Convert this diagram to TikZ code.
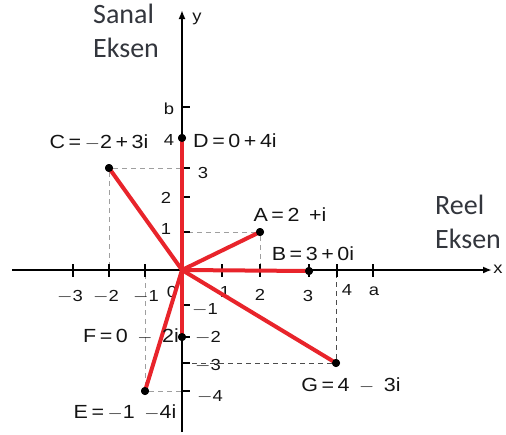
\documentclass[tikz,border=0pt]{standalone}
\usepackage{fontspec}
\setmainfont{Liberation Sans}
\newfontfamily\calib{Carlito}
\usepackage{graphicx}
\usetikzlibrary{arrows.meta}
\definecolor{vred}{HTML}{E8242B}
\definecolor{captxt}{HTML}{33363D}
\newcommand{\plab}[1]{{\fontsize{19}{21}\selectfont\scalebox{1.13}[1]{#1}}}
\newcommand{\tlab}[1]{{\fontsize{16}{18}\selectfont\scalebox{1.15}[1]{#1}}}
\tikzset{
  axis/.style={line width=1.8pt,-{Latex[length=9pt,width=7pt]}},
  tick/.style={line width=1.6pt},
  guide/.style={gray!75,line width=1pt,dash pattern=on 5pt off 4pt},
  vec/.style={vred,line width=4pt},
  pt/.style={circle,fill=black,inner sep=0pt,minimum size=8pt},
  lbl/.style={inner sep=0pt,text=black!92},
  axcaption/.style={inner sep=0pt,text=captxt,font=\calib\fontsize{28}{34}\selectfont,align=left,anchor=north west}
}
\begin{document}
\begin{tikzpicture}[x=1pt,y=-1pt]
\useasboundingbox (0,0) rectangle (506,434);
% key coordinates
\coordinate (O) at (182,270);
\coordinate (xl) at (12,270);
\coordinate (xr) at (492,270);
\coordinate (yb) at (182,432);
\coordinate (yt) at (182,10);
% points
\node[pt] (A) at (260,232) {};
\node[pt] (B) at (309,271) {};
\node[pt] (C) at (109,168) {};
\node[pt] (D) at (182,138) {};
\node[pt] (E) at (145,391) {};
\node[pt] (F) at (182,337) {};
\node[pt] (G) at (336,363) {};
% axis foot points of guides
\coordinate (Cx) at (109,270); \coordinate (Cy) at (182,168);
\coordinate (Ax) at (260,270); \coordinate (Ay) at (182,232);
\coordinate (Ex) at (145,270); \coordinate (Ey) at (182,391);
\coordinate (Gx) at (336,270); \coordinate (Gy) at (182,363);
% guides
\draw[guide] (C) -- (Cx); \draw[guide] (C) -- (Cy);
\draw[guide] (A) -- (Ax); \draw[guide] (A) -- (Ay);
\draw[guide] (E) -- (Ex); \draw[guide] (E) -- (Ey);
\draw[guide,black!70] (G) -- (Gx); \draw[guide,black!70] (G) -- (Gy);
% axes
\draw[axis] (xl) -- (xr);
\draw[axis] (yb) -- (yt);
% x ticks
\foreach \xx in {73,109,145,222,260,309,337,373}
  \draw[tick] (\xx,264) -- (\xx,277);
% y ticks
\foreach \yy in {107,168,197,232,305,337,363,391}
  \draw[tick] (182,\yy) -- (190,\yy);
% tick labels
\node[lbl] (tm3) at (70,297) {\tlab{$-$3}};
\node[lbl] (tm2) at (106,297) {\tlab{$-$2}};
\node[lbl] (tm1) at (146,297) {\tlab{$-$1}};
\node[lbl] (t0) at (172,292) {\tlab{0}};
\node[lbl] (t1) at (225,292) {\tlab{1}};
\node[lbl] (t2) at (260,295) {\tlab{2}};
\node[lbl] (t3) at (308,296) {\tlab{3}};
\node[lbl] (t4) at (347,290) {\tlab{4}};
\node[lbl] (ta) at (374,291) {\tlab{a}};
\node[lbl] (tb) at (169,109) {\tlab{b}};
\node[lbl] (u4) at (169,140) {\tlab{4}};
\node[lbl] (u3) at (203,173) {\tlab{3}};
\node[lbl] (u2) at (166,198) {\tlab{2}};
\node[lbl] (u1) at (166,229) {\tlab{1}};
\node[lbl] (um1) at (205,310) {\tlab{$-$1}};
\node[lbl] (um2) at (208,338) {\tlab{$-$2}};
\node[lbl] (um3) at (208,366) {\tlab{$-$3}};
\node[lbl] (um4) at (210,397) {\tlab{$-$4}};
% vectors
\foreach \p in {A,B,C,D,E,F,G}
  \draw[vec] (O) -- (\p.center);
% redraw dots on top
\foreach \p in {A,B,C,D,E,F,G}
  \fill (\p.center) circle (4pt);
% axis names
\node[lbl] (xn) at (498,269) {\tlab{x}};
\node[lbl] (yn) at (197,19) {\tlab{y}};
% point labels
\node[lbl] (Cl) at (99,142) {\plab{C\,=\,$-$2\,+\,3i}};
\node[lbl,anchor=west] (Dl) at (193,141) {\plab{D\,=\,0\,+\,4i}};
\node[lbl] (Al) at (290,215) {\plab{A\,=\,2 \,+i}};
\node[lbl] (Bl) at (313,254) {\plab{B\,=\,3\,+\,0i}};
\node[lbl] (Fl) at (131,336) {\plab{F\,=\,0 \,$-$\, 2i}};
\node[lbl] (El) at (125,412) {\plab{E\,=\,$-$1 \,$-$4i}};
\node[lbl] (Gl) at (351,385) {\plab{G\,=\,4 \,$-$\, 3i}};
% captions
\node[axcaption] (sanal) at (93,4) {Sanal\\Eksen};
\node[axcaption] (reel) at (435,195) {Reel\\Eksen};
\end{tikzpicture}
\end{document}
